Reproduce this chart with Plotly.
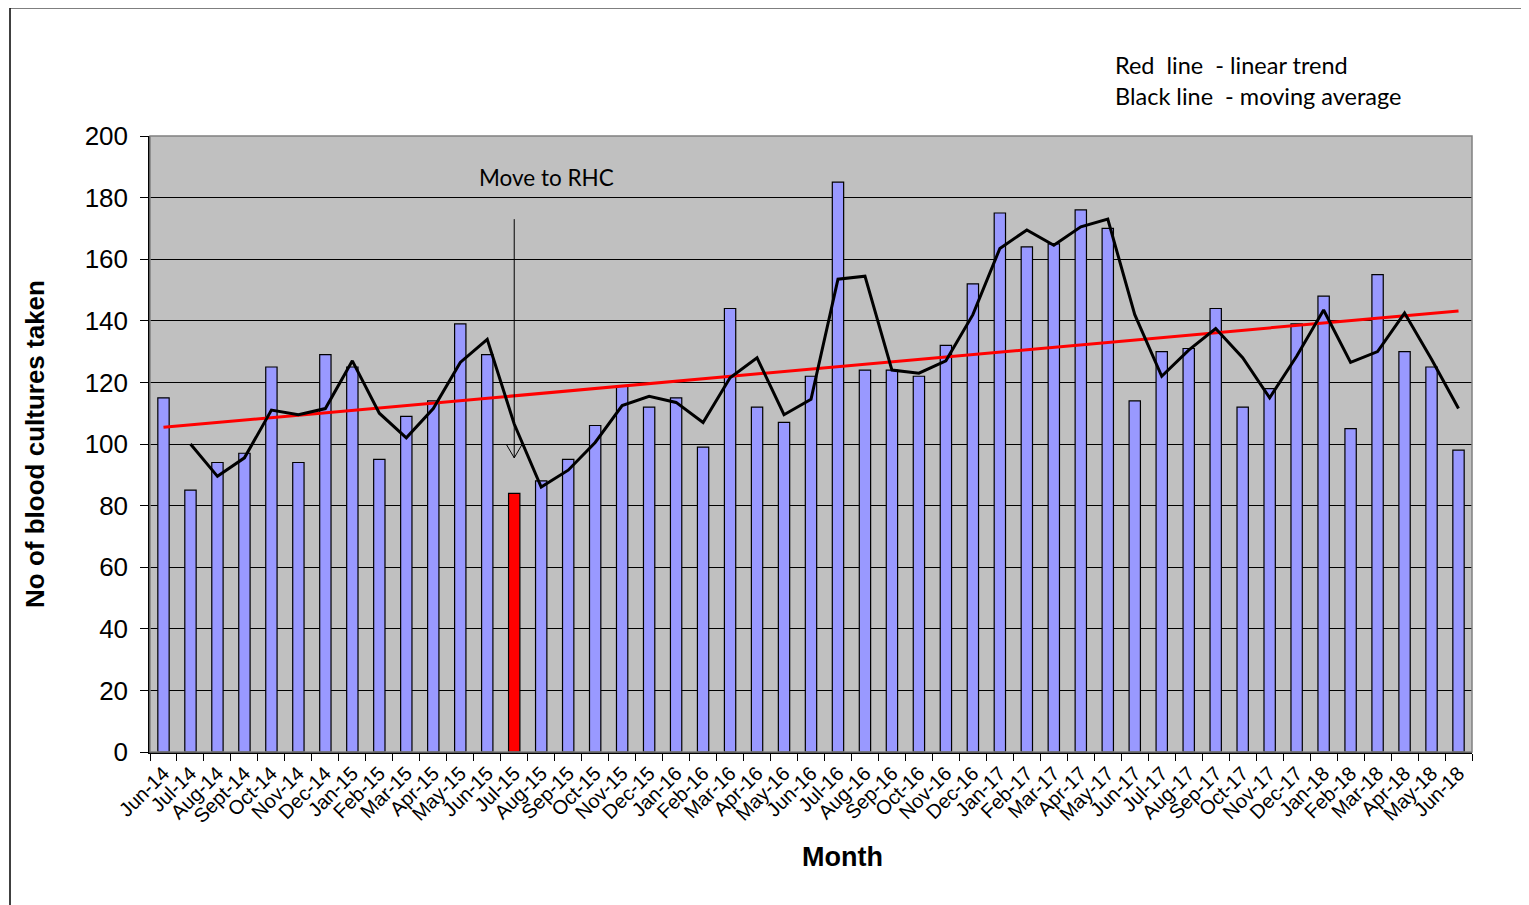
import numpy as np
import plotly.graph_objects as go

months = ["Jun-14", "Jul-14", "Aug-14", "Sept-14", "Oct-14", "Nov-14", "Dec-14",
          "Jan-15", "Feb-15", "Mar-15", "Apr-15", "May-15", "Jun-15", "Jul-15",
          "Aug-15", "Sep-15", "Oct-15", "Nov-15", "Dec-15", "Jan-16", "Feb-16",
          "Mar-16", "Apr-16", "May-16", "Jun-16", "Jul-16", "Aug-16", "Sep-16",
          "Oct-16", "Nov-16", "Dec-16", "Jan-17", "Feb-17", "Mar-17", "Apr-17",
          "May-17", "Jun-17", "Jul-17", "Aug-17", "Sep-17", "Oct-17", "Nov-17",
          "Dec-17", "Jan-18", "Feb-18", "Mar-18", "Apr-18", "May-18", "Jun-18"]

cultures = [115, 85, 94, 97, 125, 94, 129,
            125, 95, 109, 114, 139, 129, 84,
            88, 95, 106, 119, 112, 115, 99,
            144, 112, 107, 122, 185, 124, 124,
            122, 132, 152, 175, 164, 165, 176,
            170, 114, 130, 131, 144, 112, 118,
            139, 148, 105, 155, 130, 125, 98]

highlight_month = "Jul-15"
yticks = [0, 20, 40, 60, 80, 100, 120, 140, 160, 180, 200]

vals = np.array(cultures, dtype=float)
idx = np.arange(len(vals))
# 2-period moving average (Excel trendline)
mov_avg = [None] + list((vals[1:] + vals[:-1]) / 2)
# linear trend (Excel trendline)
slope, intercept = np.polyfit(idx, vals, 1)
trend = intercept + slope * idx

bar_colors = ["#FF0000" if m == highlight_month else "#9999FF" for m in months]

fig = go.Figure()
fig.add_trace(go.Bar(x=months, y=cultures, marker=dict(color=bar_colors, line=dict(color="black", width=1.2)),
                     width=0.42, showlegend=False))
fig.add_trace(go.Scatter(x=months, y=trend, mode="lines", line=dict(color="#FF0000", width=3), showlegend=False))
fig.add_trace(go.Scatter(x=months, y=mov_avg, mode="lines", line=dict(color="black", width=3),
                         showlegend=False, connectgaps=False))

hi = months.index(highlight_month)
arrow_top, arrow_tip = 173, 95.5
shapes = [
    # outer frame
    dict(type="line", xref="paper", yref="paper", x0=-0.1059, x1=-0.1059, y0=1.208, y1=-0.3,
         line=dict(color="black", width=1.5)),
    dict(type="line", xref="paper", yref="paper", x0=-0.1059, x1=1.1, y0=1.208, y1=1.208,
         line=dict(color="black", width=1.5)),
    # plot area border
    dict(type="rect", xref="paper", yref="paper", x0=0, x1=1, y0=0, y1=1,
         line=dict(color="#808080", width=1.5), layer="above"),
    # arrow
    dict(type="line", x0=hi, x1=hi, y0=arrow_top, y1=arrow_tip, line=dict(color="black", width=1)),
    dict(type="line", x0=hi - 0.3, x1=hi, y0=arrow_tip + 4.5, y1=arrow_tip, line=dict(color="black", width=1)),
    dict(type="line", x0=hi + 0.3, x1=hi, y0=arrow_tip + 4.5, y1=arrow_tip, line=dict(color="black", width=1)),
]

annotations = [
    dict(x=hi + 1.2, y=186.4, xref="x", yref="y", text="Move to RHC", showarrow=False,
         font=dict(family="Lato", size=22.5, color="black"), xanchor="center", yanchor="middle"),
    dict(x=0.7285, y=1.115, xref="paper", yref="paper", text="Red  line  - linear trend",
         showarrow=False, font=dict(family="Lato", size=23.5, color="black"), xanchor="left", yanchor="middle"),
    dict(x=0.7285, y=1.065, xref="paper", yref="paper", text="Black line  - moving average",
         showarrow=False, font=dict(family="Lato", size=23.5, color="black"), xanchor="left", yanchor="middle"),
    dict(x=0.5235, y=-0.1705, xref="paper", yref="paper", text="<b>Month</b>", showarrow=False,
         font=dict(family="Liberation Sans, Arial", size=27, color="black"), xanchor="center", yanchor="middle"),
]

fig.update_layout(
    width=1521, height=897,
    margin=dict(l=142, r=57, t=128, b=153),
    paper_bgcolor="white", plot_bgcolor="#C0C0C0",
    shapes=shapes, annotations=annotations,
    font=dict(family="Liberation Sans, Arial", color="black"),
)
fig.update_xaxes(
    type="category", tickangle=-45, tickfont=dict(size=20, family="Liberation Sans, Arial"),
    showline=True, linecolor="black", linewidth=1.5,
    ticks="outside", ticklen=7, tickcolor="black", tickson="boundaries",
    showgrid=False,
)
fig.update_yaxes(
    range=[0, 200], tickvals=yticks, tickfont=dict(size=26, family="Liberation Sans, Arial"),
    showline=True, linecolor="black", linewidth=1.5,
    ticks="outside", ticklen=8, tickcolor="black", ticklabelstandoff=7,
    showgrid=True, gridcolor="black", gridwidth=1.2, zeroline=False,
    title=dict(text="<b>No of blood cultures taken</b>", font=dict(size=26, family="Liberation Sans, Arial"),
               standoff=33),
)

fig.write_html("out.html")
